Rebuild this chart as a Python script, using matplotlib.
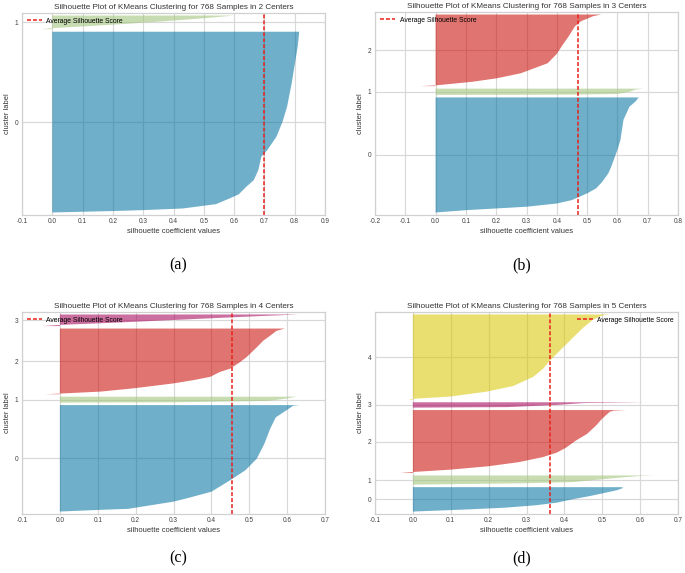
import numpy as np
import matplotlib.pyplot as plt

plt.rcParams['font.family'] = ['Liberation Sans', 'DejaVu Sans']
plt.rcParams['axes.unicode_minus'] = False

# cluster fill colours (cluster 0..4)
colors = ['#0272a2', '#9fc377', '#ca0b03', '#a50258', '#d7c703']

# (a) 2 centers
a_sizes = [714, 54]
a_avg = 0.70
a_pos = [[0, .004, .008, .013, .022, .046, .074, .10, .142, .179, .235, .309, .346, .42, .503, .586, .715, .919, 1],
         [0, .08, .2, .4, .6, .8, 1]]
a_vals = [[0, .1, .2, .3, .43, .54, .58, .615, .64, .665, .68, .69, .71, .74, .76, .775, .79, .81, .815],
          [-.035, 0, .1, .25, .38, .5, .6]]

# (b) 3 centers
b_sizes = [458, 25, 285]
b_avg = 0.47
b_pos = [[0, .01, .02, .035, .05, .078, .108, .166, .21, .267, .34, .4, .544, .63, .805, .863, .92, .965, 1],
         [0, .04, .15, .5, .85, 1],
         [0, .01, .06, .108, .178, .225, .32, .45, .58, .7, .836, .906, .977, 1]]
b_vals = [[0, .05, .1, .2, .3, .4, .45, .5, .53, .55, .57, .58, .6, .61, .62, .63, .64, .66, .67],
          [0, .45, .6, .64, .66, .685],
          [-.05, 0, .12, .2, .28, .31, .37, .40, .42, .44, .46, .48, .52, .547]]

# (c) 4 centers
c_sizes = [431, 24, 266, 47]
c_avg = 0.455
c_pos = [[0, .016, .025, .093, .124, .186, .295, .388, .497, .637, .776, .885, .932, .994, 1],
         [0, .05, .3, .7, 1],
         [0, .01, .04, .09, .165, .215, .265, .34, .39, .49, .565, .715, .815, .89, .965, 1],
         [0, .1, .3, .6, .85, 1]]
c_vals = [[0, .107, .18, .3, .335, .4, .45, .49, .52, .54, .555, .57, .59, .616, .634],
          [0, .3, .55, .6, .625],
          [-.038, 0, .107, .195, .3, .353, .397, .423, .45, .476, .493, .52, .537, .555, .572, .594],
          [-.047, 0, .15, .35, .52, .63]]

# (d) 5 centers
d_sizes = [100, 38, 258, 22, 350]
d_avg = 0.363
d_pos = [[0, .03, .095, .16, .257, .365, .5, .635, .743, .88, .973, 1],
         [0, .06, .16, .28, .53, .78, .94, 1],
         [0, .016, .054, .108, .173, .254, .324, .405, .514, .622, .757, .865, .973, .99, 1],
         [0, .1, .5, .85, 1],
         [0, .012, .038, .096, .162, .27, .365, .46, .577, .73, .846, .94, .99, 1]]
d_vals = [[0, .05, .155, .244, .324, .38, .42, .467, .5, .54, .556, .55],
          [-.015, .1, .3, .42, .485, .55, .6, .64],
          [-.033, 0, .1, .2, .28, .344, .38, .405, .43, .46, .484, .5, .52, .53, .563],
          [0, .25, .38, .45, .62],
          [-.011, 0, .098, .195, .265, .318, .344, .362, .388, .423, .45, .476, .502, .52]]

n_samples = 768
n_centers = [2, 3, 4, 5]
xlims = [(-0.1, 0.9), (-0.2, 0.8), (-0.1, 0.7), (-0.1, 0.7)]
captions = ['(a)', '(b)', '(c)', '(d)']


def plot_silhouette(ax, sizes, pos, vals, avg, xlim, k, legend_loc):
    y_lower = 10
    ticks = []
    for i in range(len(sizes)):
        y = y_lower + np.array(pos[i]) * sizes[i]
        ax.fill_betweenx(y, 0, vals[i], facecolor=colors[i], alpha=0.57, linewidth=0)
        ticks.append(y_lower + 0.5 * sizes[i])
        y_lower = y_lower + sizes[i] + 10
    ax.axvline(avg, color='#e8221c', linestyle='--', dashes=(2.6, 1.3), linewidth=1.1,
               label='Average Silhouette Score')
    ax.set_yticks(ticks)
    ax.set_yticklabels([str(i) for i in range(len(sizes))])
    ax.set_ylim(0, n_samples + (k + 1) * 10)
    xt = np.round(np.arange(xlim[0], xlim[1] + 0.001, 0.1), 1)
    ax.set_xticks(xt)
    ax.set_xticklabels(['%.1f' % v for v in xt])
    ax.set_xlim(xlim)
    ax.set_axisbelow(True)
    ax.grid(True, color='#d8d8d8', linewidth=0.85)
    for s in ax.spines.values():
        s.set_color('#d0d0d0')
        s.set_linewidth(0.9)
    ax.tick_params(length=0, labelsize=4.7, colors='#404040', pad=2.5)
    ax.set_title('Silhouette Plot of KMeans Clustering for %d Samples in %d Centers' % (n_samples, k),
                 fontsize=5.9, color='#333333', pad=3)
    ax.set_xlabel('silhouette coefficient values', fontsize=5.4, color='#333333', labelpad=2)
    ax.set_ylabel('cluster label', fontsize=5.4, color='#333333', labelpad=3)
    ax.legend(loc=legend_loc, frameon=False, fontsize=4.9, handlelength=2.3,
              borderaxespad=0.3, handletextpad=0.6)


fig = plt.figure(figsize=(6.85, 5.73), dpi=100)
W, H = 685.0, 573.0
boxes = [(22, 13, 325, 215), (375, 12, 678, 215), (22, 312, 325, 514), (375, 312, 678, 514)]
panels = [(a_sizes, a_pos, a_vals, a_avg), (b_sizes, b_pos, b_vals, b_avg),
          (c_sizes, c_pos, c_vals, c_avg), (d_sizes, d_pos, d_vals, d_avg)]
legend_locs = ['upper left', 'upper left', 'upper left', 'upper right']
cap_xy = [(178, 265), (522, 265), (178, 558), (522, 558)]

for j in range(4):
    x0, y0, x1, y1 = boxes[j]
    ax = fig.add_axes([x0 / W, 1 - y1 / H, (x1 - x0) / W, (y1 - y0) / H])
    sizes, pos, vals, avg = panels[j]
    plot_silhouette(ax, sizes, pos, vals, avg, xlims[j], n_centers[j], legend_locs[j])
    fig.text(cap_xy[j][0] / W, 1 - cap_xy[j][1] / H, captions[j], ha='center', va='center',
             fontsize=11.5, family=['Liberation Serif', 'DejaVu Serif'])

fig.savefig('out.png', dpi=100, facecolor='white')
